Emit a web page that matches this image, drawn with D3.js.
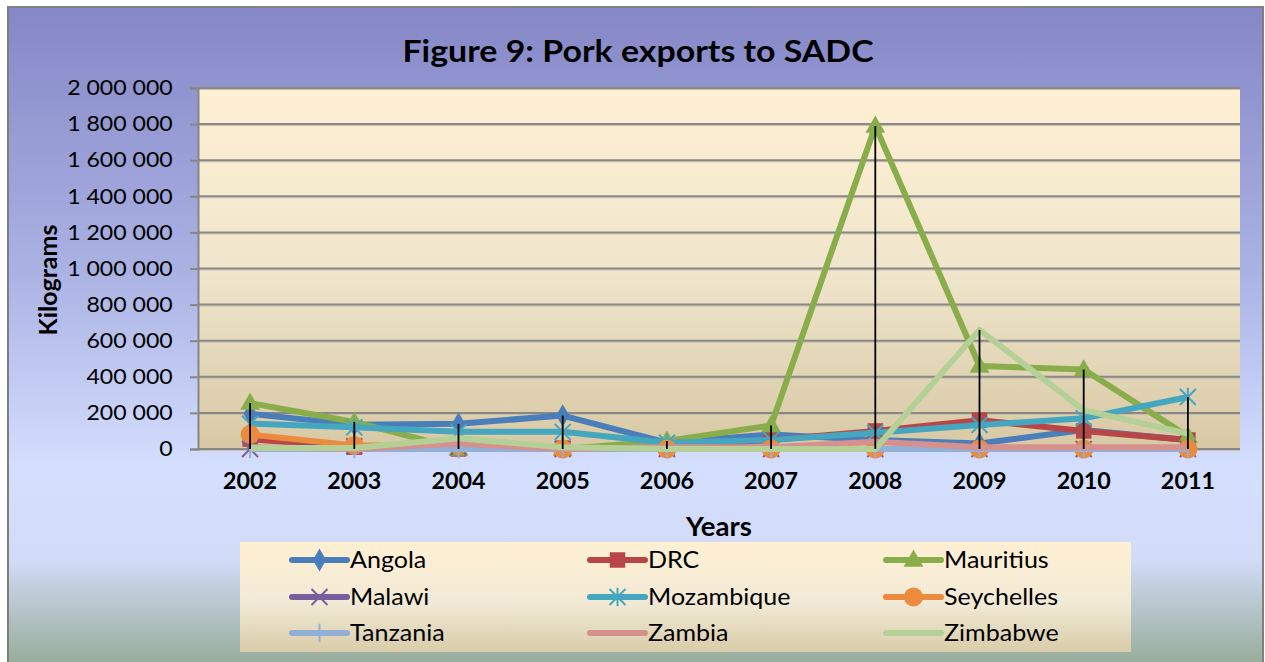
<!DOCTYPE html>
<html><head><meta charset="utf-8">
<script src="https://cdn.jsdelivr.net/npm/d3@7"></script>
<style>body{margin:0;background:#fff}svg{display:block}text{font-family:Lato,'Open Sans',sans-serif;fill:#000}</style>
</head><body>
<svg id="c" width="1265" height="662"></svg>
<script>
const years = ["2002","2003","2004","2005","2006","2007","2008","2009","2010","2011"];
const angola     = [195000,135000,140000,185000,35000,80000,50000,30000,105000,50000];
const drc        = [55000,10000,0,5000,5000,50000,100000,160000,100000,50000];
const mauritius  = [255000,150000,0,0,45000,130000,1790000,460000,440000,70000];
const malawi     = [0,15000,10000,0,0,0,0,0,0,0];
const mozambique = [140000,120000,95000,95000,35000,50000,90000,133000,170000,288000];
const seychelles = [80000,20000,20000,0,0,0,0,0,0,0];
const tanzania   = [0,0,0,0,0,0,0,0,0,0];
const zambia     = [10000,0,30000,0,10000,10000,40000,10000,10000,10000];
const zimbabwe   = [5000,5000,60000,10000,0,0,0,660000,215000,85000];
const yTicks = [0,200000,400000,600000,800000,1000000,1200000,1400000,1600000,1800000,2000000];
const seriesNames = ["Angola","DRC","Mauritius","Malawi","Mozambique","Seychelles","Tanzania","Zambia","Zimbabwe"];
const seriesValues = [angola,drc,mauritius,malawi,mozambique,seychelles,tanzania,zambia,zimbabwe];

const style = {
  Angola:{c:"#4a7ebb",m:"diamond"},
  DRC:{c:"#b94646",m:"square"},
  Mauritius:{c:"#8aad4b",m:"triangle"},
  Malawi:{c:"#7a5d9e",m:"x"},
  Mozambique:{c:"#45a6bf",m:"star"},
  Seychelles:{c:"#ec8a3e",m:"circle"},
  Tanzania:{c:"#92afd5",m:"plus"},
  Zambia:{c:"#d6908e",m:"none"},
  Zimbabwe:{c:"#b5d096",m:"none"}
};

const svg = d3.select("#c");
const defs = svg.append("defs");
function grad(id, stops){
  const g = defs.append("linearGradient").attr("id",id).attr("x1",0).attr("y1",0).attr("x2",0).attr("y2",1);
  stops.forEach(s=>g.append("stop").attr("offset",s[0]).attr("stop-color",s[1]));
}
grad("bg",[[0,"#8587c6"],[0.4,"#aab2e3"],[0.7,"#d4defe"],[0.84,"#d2dcf8"],[1,"#98ad9b"]]);
grad("plot",[[0,"#fff0d3"],[0.5,"#f0e6cd"],[1,"#d8c9a5"]]);
grad("leg",[[0,"#fff0d3"],[0.55,"#f2ead6"],[1,"#d9cca9"]]);

// outer chart area
svg.append("rect").attr("x",8).attr("y",7).attr("width",1255).attr("height",656)
  .attr("fill","url(#bg)").attr("stroke","#7f7f7f").attr("stroke-width",2);

const x = d3.scaleBand().domain(years).range([198,1240]);
const y = d3.scaleLinear().domain([0,2000000]).range([449,88]);
const cx = d => x(d) + x.bandwidth()/2;

svg.append("rect").attr("x",198).attr("y",88).attr("width",1042).attr("height",361).attr("fill","url(#plot)");

// gridlines
const grid = svg.append("g");
yTicks.forEach(t=>{
  grid.append("line").attr("x1",198).attr("x2",1240).attr("y1",y(t)+1.5).attr("y2",y(t)+1.5).attr("stroke","#c9bfa8").attr("stroke-width",1);
  grid.append("line").attr("x1",198).attr("x2",1240).attr("y1",y(t)).attr("y2",y(t)).attr("stroke","#888888").attr("stroke-width",2);
});

// y axis
const fmt = v => d3.format(",")(v).replace(/,/g," ");
const yAxis = d3.axisLeft(y).tickValues(yTicks).tickFormat(fmt).tickSize(8).tickPadding(15);
const ya = svg.append("g").attr("transform","translate(198,0)").call(yAxis);
ya.select(".domain").attr("stroke","#868686").attr("stroke-width",2);
ya.selectAll(".tick line").attr("stroke","#868686").attr("stroke-width",2);
ya.selectAll(".tick text").attr("font-size",21).attr("font-family","Lato").attr("fill","#000").attr("transform","scale(1.1,1)");

// x axis labels
const xAxis = d3.axisBottom(x).tickSize(0).tickPadding(24);
const xa = svg.append("g").attr("transform","translate(0,449)").call(xAxis);
xa.select(".domain").remove();
xa.selectAll(".tick text").attr("font-size",22).attr("font-weight","bold").attr("font-family","Lato").attr("fill","#000").attr("transform","scale(1.06,1)");

// titles
svg.append("text").attr("transform","translate(638,62) scale(1.13,1)").attr("text-anchor","middle").attr("font-size",30).attr("font-weight","bold").text("Figure 9: Pork exports to SADC");
svg.append("text").attr("transform","translate(719,536) scale(1.06,1)").attr("text-anchor","middle").attr("font-size",26).attr("font-weight","bold").text("Years");
svg.append("text").attr("transform","translate(57,280) rotate(-90)").attr("text-anchor","middle").attr("font-size",25).attr("font-weight","bold").text("Kilograms");

// markers
function drawMarker(g, type, color, px, py, scale){
  const s = scale||1;
  if(type==="diamond") g.append("path").attr("d",d3.symbol(d3.symbolDiamond, 150*s)()).attr("transform",`translate(${px},${py})`).attr("fill",color);
  else if(type==="square") g.append("path").attr("d",d3.symbol(d3.symbolSquare, 240*s)()).attr("transform",`translate(${px},${py})`).attr("fill",color);
  else if(type==="triangle") g.append("path").attr("d",d3.symbol(d3.symbolTriangle, 170*s)()).attr("transform",`translate(${px},${py+1})`).attr("fill",color);
  else if(type==="circle") g.append("circle").attr("cx",px).attr("cy",py).attr("r",9.5*Math.sqrt(s)).attr("fill",color);
  else if(type==="x"||type==="star"||type==="plus"){
    const r = 8*Math.sqrt(s);
    const segs = [];
    if(type!=="plus"){ segs.push([-r,-r,r,r]); segs.push([-r,r,r,-r]); }
    if(type!=="x"){ segs.push([0,-r*1.15,0,r*1.15]); }
    segs.forEach(q=>g.append("line").attr("x1",px+q[0]).attr("y1",py+q[1]).attr("x2",px+q[2]).attr("y2",py+q[3]).attr("stroke",color).attr("stroke-width",2));
  }
}

const line = d3.line().x((d,i)=>cx(years[i])).y(d=>y(d));
const plotG = svg.append("g");
seriesNames.forEach((name,k)=>{
  const st = style[name];
  const vals = seriesValues[k];
  const g = plotG.append("g");
  g.append("path").attr("d",line(vals)).attr("fill","none").attr("stroke",st.c).attr("stroke-width",6).attr("stroke-linejoin","round");
  if(st.m!=="none") vals.forEach((v,i)=>drawMarker(g, st.m, st.c, cx(years[i]), y(v)));
});

// high-low lines
years.forEach((yr,i)=>{
  const vs = seriesValues.map(s=>s[i]);
  svg.append("line").attr("x1",cx(yr)).attr("x2",cx(yr)).attr("y1",y(d3.max(vs))).attr("y2",y(d3.min(vs)))
    .attr("stroke","#000").attr("stroke-width",1.8);
});

// legend
svg.append("rect").attr("x",240).attr("y",542).attr("width",891).attr("height",110).attr("fill","url(#leg)");
const colX = [292,590,886], rowY = [560,597,633];
seriesNames.forEach((name,k)=>{
  const st = style[name];
  const lx = colX[k%3], ly = rowY[Math.floor(k/3)];
  const g = svg.append("g");
  g.append("line").attr("x1",lx).attr("x2",lx+55).attr("y1",ly).attr("y2",ly).attr("stroke",st.c).attr("stroke-width",6).attr("stroke-linecap","round");
  if(st.m!=="none") drawMarker(g, st.m, st.c, lx+27.5, ly);
  g.append("text").attr("transform",`translate(${lx+58},${ly+8}) scale(1.09,1)`).attr("font-size",23).text(name);
});
</script>
</body></html>
